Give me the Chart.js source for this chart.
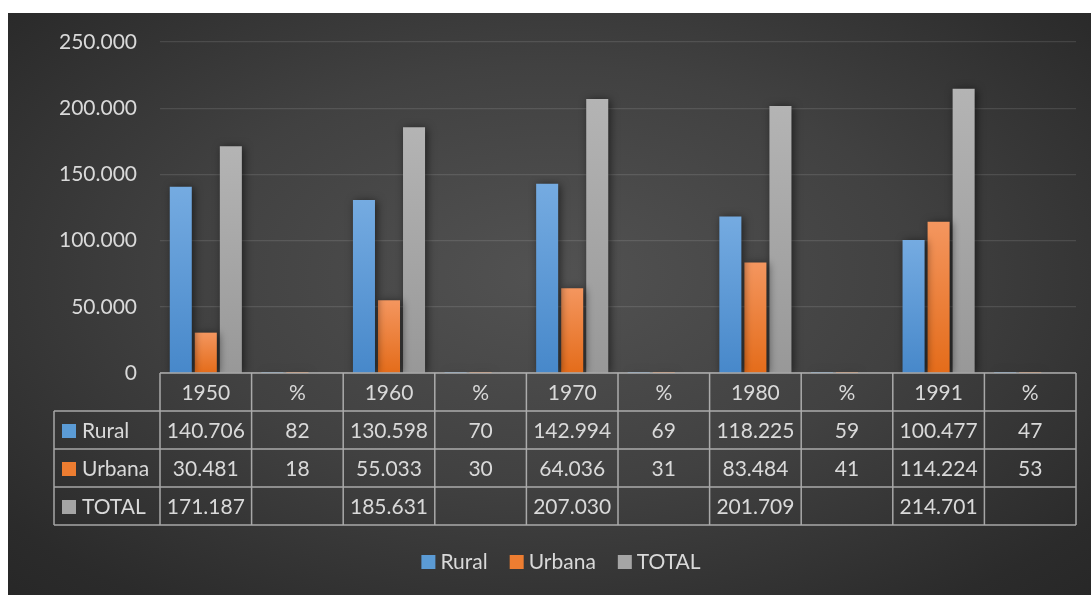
<!DOCTYPE html>
<html lang="es">

<head>
    <meta charset="UTF-8">
    <title>Población rural y urbana</title>
    <script src="https://cdn.jsdelivr.net/npm/chart.js@4.4.0/dist/chart.umd.min.js"></script>
    <style>
        html,
        body {
            margin: 0;
            padding: 0;
            background: #ffffff;
        }

        #frame {
            position: absolute;
            left: 8px;
            top: 13px;
            width: 1083px;
            height: 582px;
            background: radial-gradient(ellipse 75% 80% at 50% 45%, #525252 0%, #414141 45%, #2b2b2b 85%, #262626 100%);
        }
    </style>
</head>

<body>
    <div id="frame">
        <canvas id="myChart" width="1083" height="582"></canvas>
    </div>

    <script>
        // columns of the table: census year followed by its share in %
        const categories = ['1950', '%', '1960', '%', '1970', '%', '1980', '%', '1991', '%'];
        const rural = [140706, 82, 130598, 70, 142994, 69, 118225, 59, 100477, 47];
        const urbana = [30481, 18, 55033, 30, 64036, 31, 83484, 41, 114224, 53];
        const total = [171187, null, 185631, null, 207030, null, 201709, null, 214701, null];
        const yTicks = [0, 50000, 100000, 150000, 200000, 250000];

        const FONT = 'Lato, "Liberation Sans", sans-serif';
        const TEXT = '#d9d9d9';
        const SIZE = 21;

        // thousands with a dot, as in 140.706
        function fmt(v) {
            if (v === null || v === undefined) return '';
            return String(v).replace(/\B(?=(\d{3})+(?!\d))/g, '.');
        }

        // vertical gradient per bar, lighter at the top
        function barFill(top, bottom, flat) {
            return function (context) {
                const chart = context.chart;
                const y = chart.scales.y;
                const v = context.raw;
                if (!y || v === null || v === undefined || !chart.chartArea) return flat;
                const y0 = y.getPixelForValue(0);
                const y1 = y.getPixelForValue(v);
                if (Math.abs(y0 - y1) < 1) return flat;
                const g = chart.ctx.createLinearGradient(0, y1, 0, y0);
                g.addColorStop(0, top);
                g.addColorStop(1, bottom);
                return g;
            };
        }

        const series = [
            { label: 'Rural', data: rural, swatch: '#5b9bd5', top: '#75abe1', bottom: '#4788ca' },
            { label: 'Urbana', data: urbana, swatch: '#ed7d31', top: '#f4965f', bottom: '#e46c1a' },
            { label: 'TOTAL', data: total, swatch: '#a5a5a5', top: '#b4b4b4', bottom: '#989898' }
        ];

        const datasets = series.map(s => ({
            label: s.label,
            data: s.data,
            backgroundColor: barFill(s.top, s.bottom, s.swatch),
            borderWidth: 0,
            barPercentage: 0.88,
            categoryPercentage: 0.82
        }));

        // soft shadow behind the bars
        const barShadow = {
            id: 'barShadow',
            beforeDatasetsDraw(chart) {
                const ctx = chart.ctx;
                ctx.save();
                ctx.shadowColor = 'rgba(0,0,0,0.55)';
                ctx.shadowBlur = 9;
                ctx.shadowOffsetX = 2;
                ctx.shadowOffsetY = 1;
            },
            afterDatasetsDraw(chart) {
                chart.ctx.restore();
            }
        };

        // data table under the plot plus the legend line
        const dataTable = {
            id: 'dataTable',
            afterDraw(chart) {
                const ctx = chart.ctx;
                const x = chart.scales.x;
                const n = categories.length;
                const colW = (x.right - x.left) / n;
                const top = chart.chartArea.bottom;
                const rowH = 38;
                const keyLeft = 46;
                const bottom = top + rowH * 4;

                ctx.save();
                ctx.strokeStyle = 'rgba(205,205,205,0.75)';
                ctx.lineWidth = 1.5;
                ctx.beginPath();
                ctx.moveTo(x.left, top);
                ctx.lineTo(x.right, top);
                for (let r = 1; r <= 4; r++) {
                    ctx.moveTo(keyLeft, top + rowH * r);
                    ctx.lineTo(x.right, top + rowH * r);
                }
                for (let i = 0; i <= n; i++) {
                    const px = x.left + colW * i;
                    ctx.moveTo(px, top);
                    ctx.lineTo(px, bottom);
                }
                ctx.moveTo(keyLeft, top + rowH);
                ctx.lineTo(keyLeft, bottom);
                ctx.stroke();

                ctx.font = SIZE + 'px ' + FONT;
                ctx.fillStyle = TEXT;
                ctx.textBaseline = 'middle';
                ctx.textAlign = 'center';
                categories.forEach((c, i) => {
                    ctx.fillText(c, x.getPixelForValue(i), top + rowH / 2 + 1);
                });

                series.forEach((s, r) => {
                    const cy = top + rowH * (r + 1) + rowH / 2 + 1;
                    ctx.fillStyle = s.swatch;
                    ctx.fillRect(keyLeft + 8, cy - 7, 14, 14);
                    ctx.fillStyle = TEXT;
                    ctx.textAlign = 'left';
                    ctx.fillText(s.label, keyLeft + 28, cy);
                    ctx.textAlign = 'center';
                    s.data.forEach((v, i) => {
                        ctx.fillText(fmt(v), x.getPixelForValue(i), cy);
                    });
                });

                // legend
                const ly = 549;
                const gap = 22;
                const widths = series.map(s => 14 + 5 + ctx.measureText(s.label).width);
                const full = widths.reduce((a, b) => a + b, 0) + gap * (series.length - 1);
                let lx = 553 - full / 2;
                ctx.textAlign = 'left';
                series.forEach((s, i) => {
                    ctx.fillStyle = s.swatch;
                    ctx.fillRect(lx, ly - 7, 14, 14);
                    ctx.fillStyle = TEXT;
                    ctx.fillText(s.label, lx + 19, ly);
                    lx += widths[i] + gap;
                });
                ctx.restore();
            }
        };

        const config = {
            type: 'bar',
            data: { labels: categories, datasets: datasets },
            options: {
                responsive: false,
                animation: false,
                layout: { padding: { top: 29, right: 15, bottom: 222, left: 0 } },
                plugins: {
                    legend: { display: false },
                    tooltip: { enabled: false }
                },
                scales: {
                    x: {
                        display: false
                    },
                    y: {
                        min: 0,
                        max: 250000,
                        afterFit(scale) { scale.width = 152; },
                        afterBuildTicks(scale) { scale.ticks = yTicks.map(v => ({ value: v })); },
                        border: { display: false },
                        // invisible tick marks keep the labels clear of the plot
                        grid: {
                            color: 'rgba(255,255,255,0.11)',
                            lineWidth: 1.2,
                            drawTicks: true,
                            tickLength: 23,
                            tickColor: 'rgba(0,0,0,0)'
                        },
                        ticks: {
                            padding: 0,
                            color: TEXT,
                            font: { family: FONT, size: SIZE },
                            callback: v => fmt(v)
                        }
                    }
                }
            },
            plugins: [barShadow, dataTable]
        };

        window.myChart = new Chart(document.getElementById('myChart').getContext('2d'), config);
    </script>
</body>

</html>
